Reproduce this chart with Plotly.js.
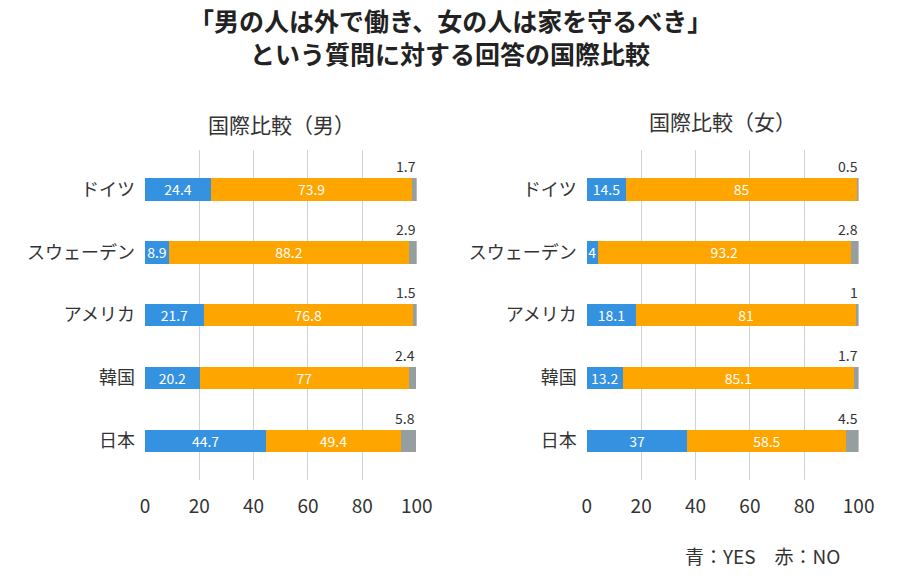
<!DOCTYPE html>
<html>
<head>
<meta charset="utf-8">
<script src="https://cdn.plot.ly/plotly-3.0.1.min.js"></script>
<style>html,body{margin:0;padding:0;background:#fff;}#chart{width:900px;height:583px;}</style>
</head>
<body>
<div id="chart"></div>
<script>
// Countries, top to bottom
const countries = ["ドイツ", "スウェーデン", "アメリカ", "韓国", "日本"];

// Men: YES / NO / other (%)
const menYes   = [24.4, 8.9, 21.7, 20.2, 44.7];
const menNo    = [73.9, 88.2, 76.8, 77, 49.4];
const menOther = [1.7, 2.9, 1.5, 2.4, 5.8];

// Women: YES / NO / other (%)
const womenYes   = [14.5, 4, 18.1, 13.2, 37];
const womenNo    = [85, 93.2, 81, 85.1, 58.5];
const womenOther = [0.5, 2.8, 1, 1.7, 4.5];

const xTicks = [0, 20, 40, 60, 80, 100];

const FONT = '"Noto Sans CJK JP", "Noto Sans", sans-serif';
const BLUE = '#3592e0', ORANGE = '#ffa500', GREY = '#959fa0';

function bars(xa, ya, yes, no, other) {
  const common = {type: 'bar', orientation: 'h', y: countries, xaxis: xa, yaxis: ya,
    width: 0.36, hoverinfo: 'skip', showlegend: false, cliponaxis: false};
  return [
    Object.assign({}, common, {x: yes, text: yes.map(String), textposition: 'inside',
      insidetextanchor: 'middle', textangle: 0, constraintext: 'none',
      textfont: {color: '#fff', size: 14, family: FONT},
      marker: {color: BLUE, line: {width: 0}}}),
    Object.assign({}, common, {x: no, text: no.map(String), textposition: 'inside',
      insidetextanchor: 'middle', textangle: 0, constraintext: 'none',
      textfont: {color: '#fff', size: 14, family: FONT},
      marker: {color: ORANGE, line: {width: 0}}}),
    Object.assign({}, common, {x: other, textposition: 'none',
      marker: {color: GREY, line: {width: 0}}})
  ];
}

// Value of the grey segment, written above the right end of each bar
function otherLabels(xa, ya, yes, no, other) {
  return countries.map((c, i) => ({
    xref: xa, yref: ya, x: Math.min(100, yes[i] + no[i] + other[i]), y: c,
    text: String(other[i]), showarrow: false, xanchor: 'right', yanchor: 'bottom',
    yshift: 11, xshift: 1, font: {size: 14, color: '#333', family: FONT}
  }));
}

const data = [].concat(
  bars('x', 'y', menYes, menNo, menOther),
  bars('x2', 'y2', womenYes, womenNo, womenOther)
);

function xaxis(domain, anchor) {
  return {domain: domain, anchor: anchor, range: [0, 100], tickvals: xTicks,
    showgrid: true, gridcolor: '#cfd3d6', gridwidth: 1, zeroline: false, showline: false,
    ticks: '', tickfont: {size: 19, color: '#333', family: FONT}, ticklabelstandoff: 13,
    fixedrange: true};
}
function yaxis(anchor) {
  return {domain: [0.177, 0.743], anchor: anchor, type: 'category',
    categoryorder: 'array', categoryarray: countries, autorange: false,
    range: [4.62, -0.63], showgrid: false, zeroline: false, showline: false, ticks: '',
    ticklabelstandoff: 9, tickfont: {size: 18, color: '#333', family: FONT}, fixedrange: true};
}

const layout = {
  width: 900, height: 583,
  margin: {l: 0, r: 0, t: 0, b: 0},
  paper_bgcolor: '#fff', plot_bgcolor: '#fff',
  barmode: 'stack', bargap: 0.65,
  font: {family: FONT, color: '#333'},
  xaxis: xaxis([0.161, 0.463], 'y'),
  yaxis: yaxis('x'),
  xaxis2: xaxis([0.652, 0.954], 'y2'),
  yaxis2: yaxis('x2'),
  annotations: [
    {xref: 'paper', yref: 'paper', x: 0.5, xanchor: 'center', y: 1 - 20 / 583, yanchor: 'middle',
      text: '<b>「男の人は外で働き、女の人は家を守るべき」</b>',
      showarrow: false, font: {size: 25, color: '#222', family: FONT}},
    {xref: 'paper', yref: 'paper', x: 0.5, xanchor: 'center', y: 1 - 53 / 583, yanchor: 'middle',
      text: '<b>という質問に対する回答の国際比較</b>',
      showarrow: false, font: {size: 25, color: '#222', family: FONT}},
    {xref: 'paper', yref: 'paper', x: 281 / 900, xanchor: 'center', y: 1 - 124 / 583, yanchor: 'middle',
      text: '国際比較（男）', showarrow: false, font: {size: 21, color: '#333', family: FONT}},
    {xref: 'paper', yref: 'paper', x: 722 / 900, xanchor: 'center', y: 1 - 121 / 583, yanchor: 'middle',
      text: '国際比較（女）', showarrow: false, font: {size: 21, color: '#333', family: FONT}},
    {xref: 'paper', yref: 'paper', x: 842 / 900, xanchor: 'right', y: 1 - 555 / 583, yanchor: 'middle',
      text: '青：YES　赤：NO', showarrow: false, font: {size: 19, color: '#333', family: FONT}}
  ].concat(
    otherLabels('x', 'y', menYes, menNo, menOther),
    otherLabels('x2', 'y2', womenYes, womenNo, womenOther)
  )
};

Plotly.newPlot('chart', data, layout, {staticPlot: true, displayModeBar: false});
</script>
</body>
</html>
